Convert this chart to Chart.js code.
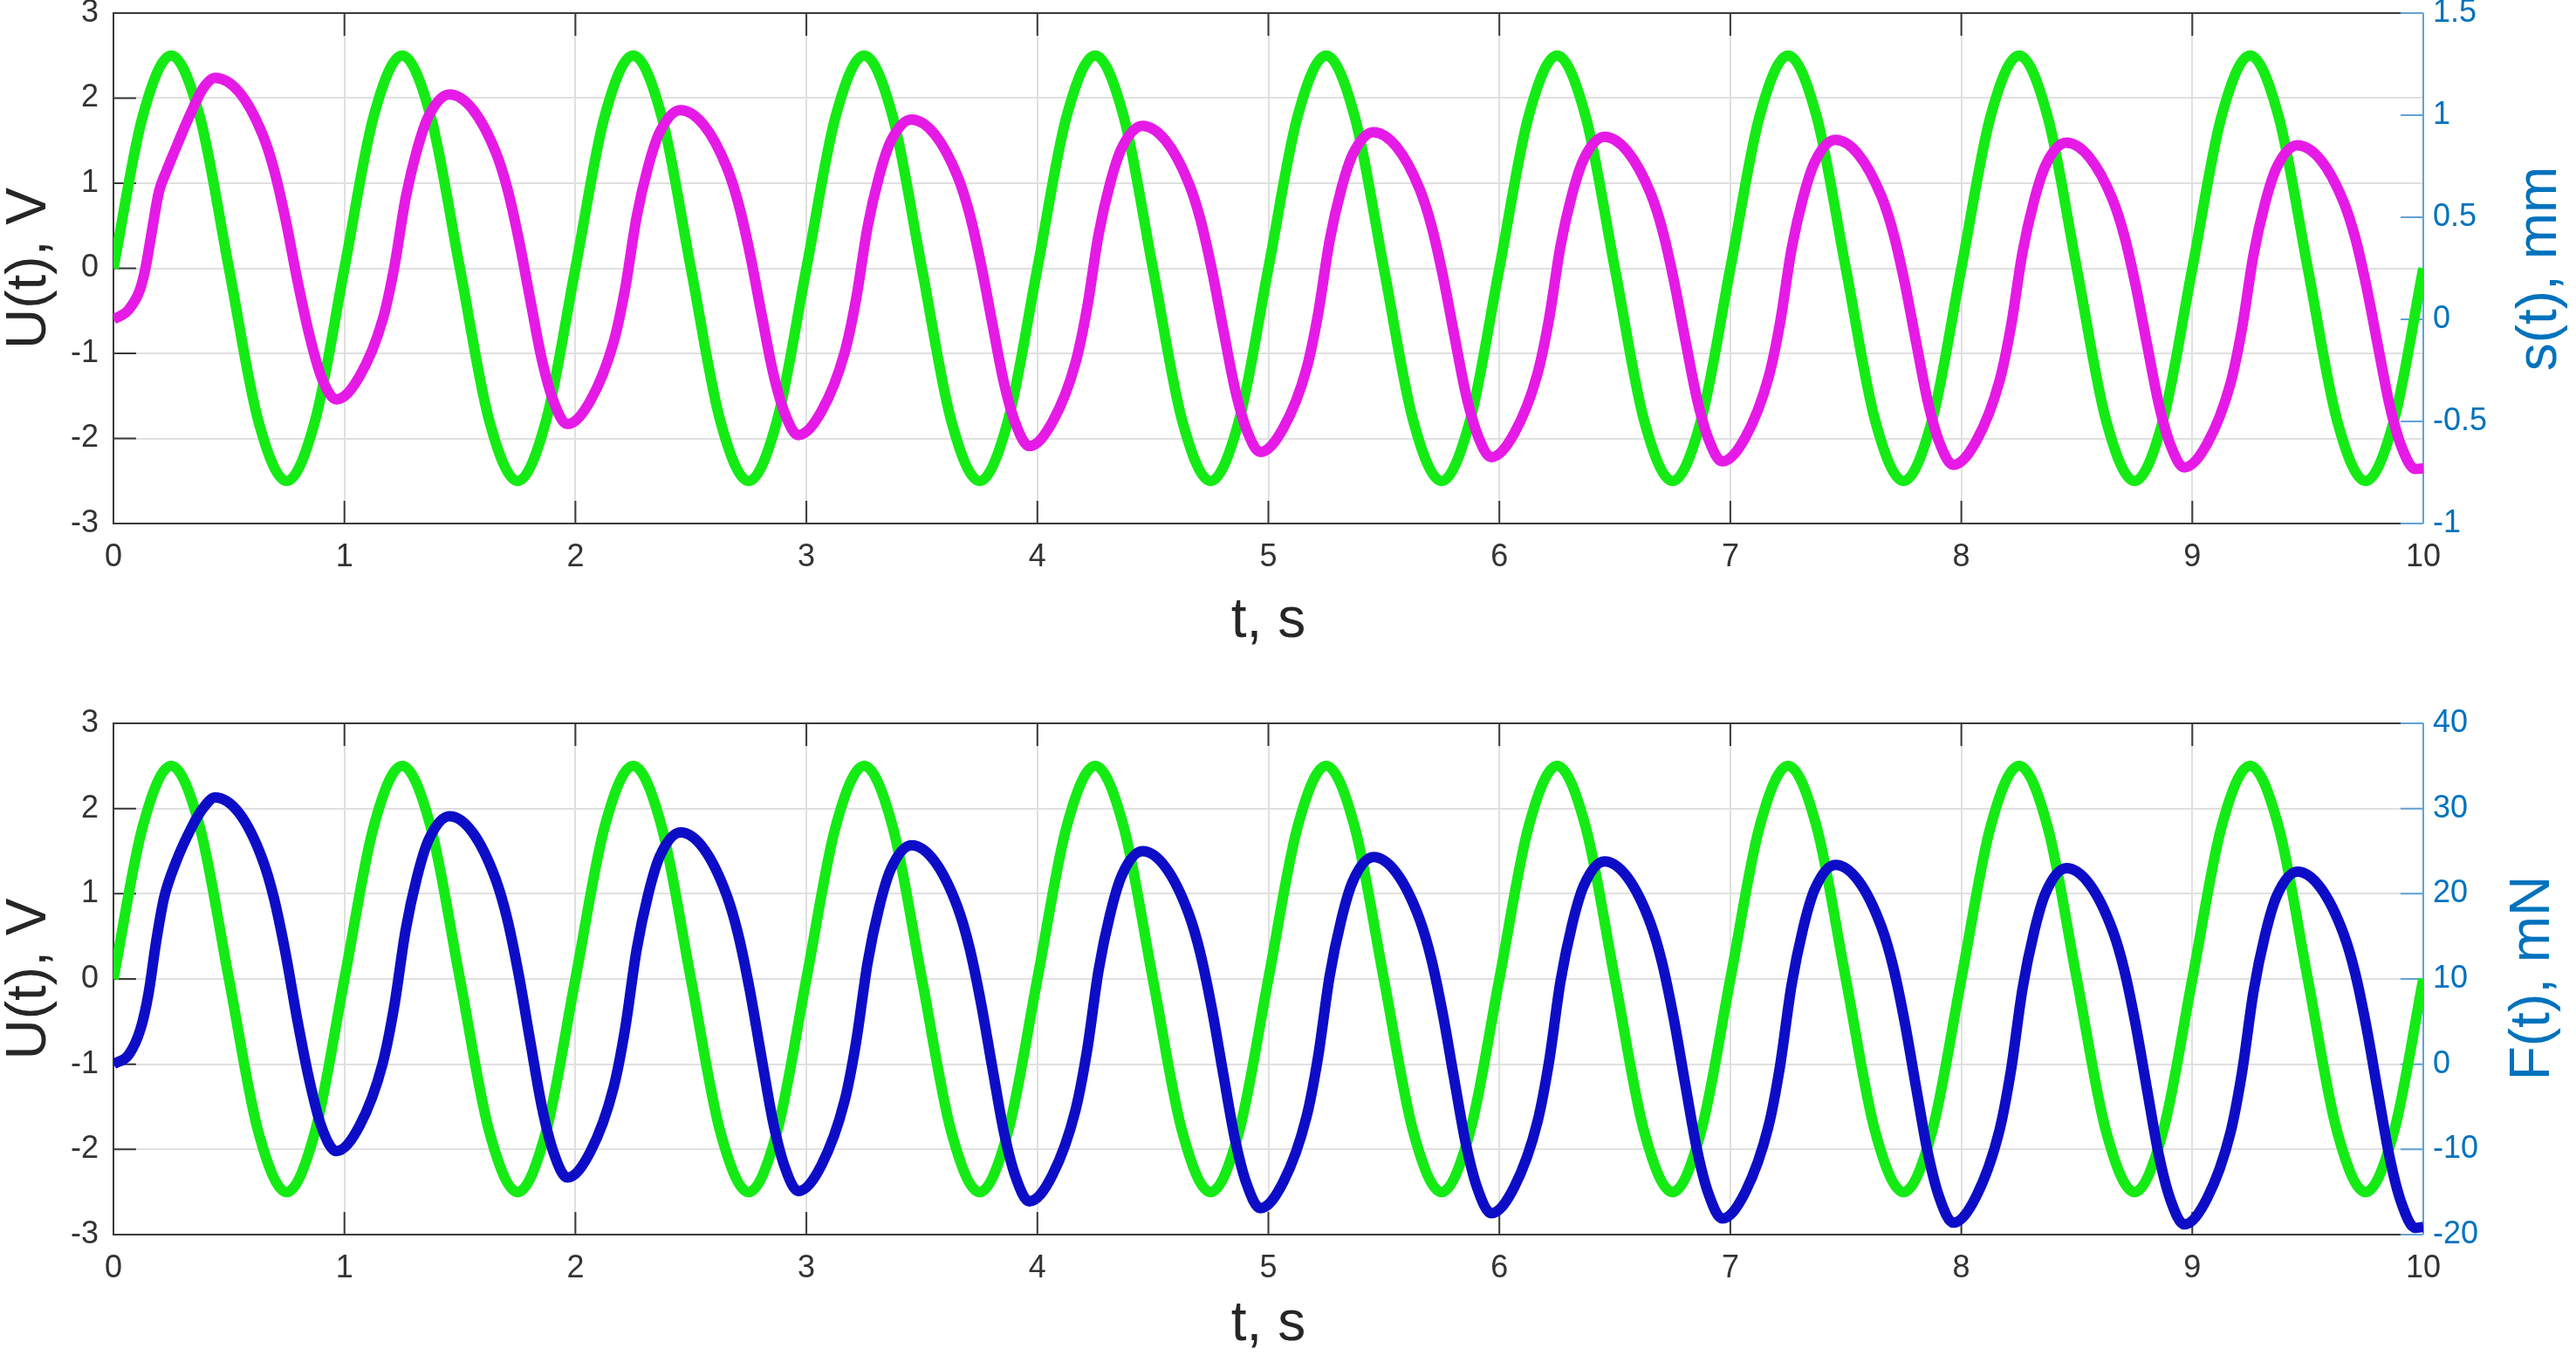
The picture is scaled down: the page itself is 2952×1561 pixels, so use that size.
<!DOCTYPE html>
<html>
<head>
<meta charset="utf-8">
<script src="https://cdn.jsdelivr.net/npm/chart.js@4.4.1/dist/chart.umd.min.js"></script>
<style>
html,body{margin:0;padding:0;background:#fff;}
#wrap{position:relative;width:2952px;height:1561px;overflow:hidden;background:#fff;}
canvas{position:absolute;left:0;}
.rtitle{position:absolute;width:500px;height:80px;line-height:80px;text-align:center;
  font-family:"Liberation Sans",Arial,Helvetica,sans-serif;font-size:64px;color:#0072bd;
  transform:rotate(-90deg);white-space:nowrap;}
</style>
</head>
<body>
<div id="wrap">
  <canvas id="c1" width="2952" height="780" style="top:0px"></canvas>
  <canvas id="c2" width="2952" height="781" style="top:780px"></canvas>
  <div class="rtitle" style="left:2657px;top:268px">s(t), mm</div>
  <div class="rtitle" style="left:2649px;top:1081px">F(t), mN</div>
</div>
<script>
// ---------- tick values and labels ----------
const xTicks = [0,1,2,3,4,5,6,7,8,9,10];
const xTickLabels = ['0','1','2','3','4','5','6','7','8','9','10'];
const uTicks = [-3,-2,-1,0,1,2,3];
const uTickLabels = ['-3','-2','-1','0','1','2','3'];
const sTicks = [-1,-0.5,0,0.5,1,1.5];
const sTickLabels = ['-1','-0.5','0','0.5','1','1.5'];
const fTicks = [-20,-10,0,10,20,30,40];
const fTickLabels = ['-20','-10','0','10','20','30','40'];

// ---------- U(t), V (green, both panels) ----------
const gT = [0,0.125,0.25,0.375,0.5,0.625,0.75,0.875,
1,1.125,1.25,1.375,1.5,1.625,1.75,1.875,
2,2.125,2.25,2.375,2.5,2.625,2.75,2.875,
3,3.125,3.25,3.375,3.5,3.625,3.75,3.875,
4,4.125,4.25,4.375,4.5,4.625,4.75,4.875,
5,5.125,5.25,5.375,5.5,5.625,5.75,5.875,
6,6.125,6.25,6.375,6.5,6.625,6.75,6.875,
7,7.125,7.25,7.375,7.5,7.625,7.75,7.875,
8,8.125,8.25,8.375,8.5,8.625,8.75,8.875,
9,9.125,9.25,9.375,9.5,9.625,9.75,9.875,10];
const gU = [0,1.77,2.5,1.77,0,-1.77,-2.5,-1.77,
0,1.77,2.5,1.77,0,-1.77,-2.5,-1.77,
0,1.77,2.5,1.77,0,-1.77,-2.5,-1.77,
0,1.77,2.5,1.77,0,-1.77,-2.5,-1.77,
0,1.77,2.5,1.77,0,-1.77,-2.5,-1.77,
0,1.77,2.5,1.77,0,-1.77,-2.5,-1.77,
0,1.77,2.5,1.77,0,-1.77,-2.5,-1.77,
0,1.77,2.5,1.77,0,-1.77,-2.5,-1.77,
0,1.77,2.5,1.77,0,-1.77,-2.5,-1.77,
0,1.77,2.5,1.77,0,-1.77,-2.5,-1.77,0];

// ---------- s(t), mm (magenta, top panel) ----------
const sT = [0,0.065,0.115,0.14,0.166,0.197,0.229,0.267,0.315,0.337,0.387,0.44,
0.545,0.645,0.695,0.745,0.795,0.85,0.9,0.965,
1.065,1.165,1.215,1.265,1.315,1.365,1.455,1.555,1.655,1.705,1.755,1.805,1.855,1.905,1.965,
2.065,2.165,2.215,2.265,2.315,2.365,2.455,2.555,2.655,2.705,2.755,2.805,2.855,2.905,2.965,
3.065,3.165,3.215,3.265,3.315,3.365,3.455,3.555,3.655,3.705,3.755,3.805,3.855,3.905,3.965,
4.065,4.165,4.215,4.265,4.315,4.365,4.455,4.555,4.655,4.705,4.755,4.805,4.855,4.905,4.965,
5.065,5.165,5.215,5.265,5.315,5.365,5.455,5.555,5.655,5.705,5.755,5.805,5.855,5.905,5.965,
6.065,6.165,6.215,6.265,6.315,6.365,6.455,6.555,6.655,6.705,6.755,6.805,6.855,6.905,6.965,
7.065,7.165,7.215,7.265,7.315,7.365,7.455,7.555,7.655,7.705,7.755,7.805,7.855,7.905,7.965,
8.065,8.165,8.215,8.265,8.315,8.365,8.455,8.555,8.655,8.705,8.755,8.805,8.855,8.905,8.965,
9.065,9.165,9.215,9.265,9.315,9.365,9.455,9.555,9.655,9.705,9.755,9.805,9.855,9.905,9.965,10];
const sV = [0,0.046,0.146,0.258,0.429,0.625,0.725,0.83,0.96,1.015,1.13,1.183,
1.112,0.907,0.734,0.490,0.199,-0.085,-0.282,-0.392,
-0.280,-0.004,0.250,0.594,0.833,0.997,1.102,1.029,0.819,0.642,0.391,0.093,-0.198,-0.400,-0.513,
-0.398,-0.113,0.148,0.502,0.748,0.917,1.025,0.953,0.746,0.571,0.325,0.030,-0.257,-0.456,-0.567,
-0.451,-0.165,0.098,0.453,0.701,0.871,0.979,0.907,0.699,0.523,0.275,-0.021,-0.309,-0.509,-0.621,
-0.503,-0.213,0.054,0.415,0.666,0.838,0.948,0.876,0.668,0.493,0.245,-0.051,-0.338,-0.538,-0.650,
-0.532,-0.243,0.024,0.384,0.635,0.807,0.917,0.845,0.638,0.463,0.217,-0.078,-0.365,-0.564,-0.675,
-0.557,-0.267,0.000,0.361,0.612,0.784,0.894,0.822,0.616,0.441,0.194,-0.100,-0.386,-0.585,-0.696,
-0.578,-0.286,-0.019,0.344,0.596,0.769,0.879,0.807,0.600,0.425,0.179,-0.116,-0.403,-0.602,-0.713,
-0.595,-0.303,-0.034,0.328,0.581,0.755,0.865,0.793,0.587,0.412,0.165,-0.129,-0.415,-0.614,-0.725,
-0.607,-0.315,-0.046,0.316,0.569,0.743,0.853,0.782,0.575,0.401,0.155,-0.138,-0.424,-0.622,-0.733,-0.73];

// ---------- F(t), mN (blue, bottom panel) ----------
const fT = [0,0.067,0.118,0.152,0.185,0.219,0.269,0.337,0.387,0.44,
0.545,0.645,0.695,0.745,0.795,0.85,0.9,0.965,
1.065,1.165,1.215,1.265,1.315,1.365,1.455,1.555,1.655,1.705,1.755,1.805,1.855,1.905,1.965,
2.065,2.165,2.215,2.265,2.315,2.365,2.455,2.555,2.655,2.705,2.755,2.805,2.855,2.905,2.965,
3.065,3.165,3.215,3.265,3.315,3.365,3.455,3.555,3.655,3.705,3.755,3.805,3.855,3.905,3.965,
4.065,4.165,4.215,4.265,4.315,4.365,4.455,4.555,4.655,4.705,4.755,4.805,4.855,4.905,4.965,
5.065,5.165,5.215,5.265,5.315,5.365,5.455,5.555,5.655,5.705,5.755,5.805,5.855,5.905,5.965,
6.065,6.165,6.215,6.265,6.315,6.365,6.455,6.555,6.655,6.705,6.755,6.805,6.855,6.905,6.965,
7.065,7.165,7.215,7.265,7.315,7.365,7.455,7.555,7.655,7.705,7.755,7.805,7.855,7.905,7.965,
8.065,8.165,8.215,8.265,8.315,8.365,8.455,8.555,8.655,8.705,8.755,8.805,8.855,8.905,8.965,
9.065,9.165,9.215,9.265,9.315,9.365,9.455,9.555,9.655,9.705,9.755,9.805,9.855,9.905,9.965,10];
const fV = [0,1.15,4.2,8.3,14.4,19.5,23.6,27.7,30.0,31.3,
29.43,24.04,19.47,13.04,5.36,-2.11,-7.30,-10.2,
-7.25,0.02,6.70,15.74,22.03,26.35,29.1,27.19,21.68,17.02,10.44,2.60,-5.03,-10.33,-13.3,
-10.26,-2.77,4.12,13.43,19.91,24.37,27.2,25.31,19.83,15.20,8.68,0.89,-6.69,-11.95,-14.9,
-11.85,-4.34,2.56,11.90,18.39,22.86,25.7,23.82,18.39,13.79,7.31,-0.42,-7.95,-13.17,-16.1,
-13.02,-5.41,1.57,11.03,17.60,22.12,25.0,23.11,17.67,13.06,6.56,-1.19,-8.73,-13.97,-16.9,
-13.81,-6.19,0.82,10.29,16.88,21.42,24.3,22.42,16.99,12.39,5.91,-1.82,-9.35,-14.57,-17.5,
-14.40,-6.76,0.26,9.76,16.37,20.91,23.8,21.91,16.47,11.86,5.36,-2.39,-9.93,-15.17,-18.1,
-14.99,-7.31,-0.25,9.29,15.93,20.50,23.4,21.51,16.05,11.43,4.92,-2.85,-10.41,-15.66,-18.6,
-15.48,-7.78,-0.71,8.86,15.51,20.09,23.0,21.12,15.69,11.09,4.61,-3.12,-10.65,-15.87,-18.8,
-15.69,-8.04,-1.00,8.52,15.15,19.70,22.6,20.72,15.29,10.69,4.21,-3.52,-11.05,-16.27,-19.2,-19.1];

// ---------- styles ----------
const FONT = "'Liberation Sans', Arial, Helvetica, sans-serif";
const AXIS = '#3a3a3a', GRID = '#e0e0e0', TICKTXT = '#333333', TITLE = '#262626';
const RIGHT = '#0072bd', RIGHT_LINE = '#62a2d6';
const GREEN = '#14eb14', MAGENTA = '#e61ae6', BLUE = '#0d0dc8';
const TICK_LEN = 26;
const LINE_W = 12;

const matlabAxes = {
  id: 'matlabAxes',
  beforeDatasetsDraw(chart) {
    const {ctx, chartArea: a} = chart;
    const x = chart.scales.x, y = chart.scales.y, y1 = chart.scales.y1;
    ctx.save();
    ctx.lineCap = 'butt';
    ctx.strokeStyle = AXIS; ctx.lineWidth = 2;
    ctx.beginPath();
    x.ticks.forEach(t => {
      const p = x.getPixelForValue(t.value);
      ctx.moveTo(p, a.bottom); ctx.lineTo(p, a.bottom - TICK_LEN);
      ctx.moveTo(p, a.top); ctx.lineTo(p, a.top + TICK_LEN);
    });
    y.ticks.forEach(t => {
      const p = y.getPixelForValue(t.value);
      ctx.moveTo(a.left, p); ctx.lineTo(a.left + TICK_LEN, p);
    });
    ctx.moveTo(a.right, a.top); ctx.lineTo(a.left, a.top);
    ctx.lineTo(a.left, a.bottom); ctx.lineTo(a.right, a.bottom);
    ctx.stroke();
    ctx.strokeStyle = RIGHT_LINE;
    ctx.beginPath();
    y1.ticks.forEach(t => {
      const p = y1.getPixelForValue(t.value);
      ctx.moveTo(a.right, p); ctx.lineTo(a.right - TICK_LEN, p);
    });
    ctx.moveTo(a.right, a.top); ctx.lineTo(a.right, a.bottom);
    ctx.stroke();
    ctx.restore();
  }
};

function setTicks(values) {
  return s => { s.ticks = values.map(v => ({value: v})); };
}

function makeChart(id, cfg) {
  return new Chart(document.getElementById(id), {
    type: 'line',
    data: {
      datasets: [
        { label: 'U(t), V', data: gT.map((t, i) => ({x: t, y: gU[i]})), yAxisID: 'y',
          borderColor: GREEN, borderWidth: LINE_W, pointRadius: 0, fill: false,
          cubicInterpolationMode: 'monotone', order: 2 },
        { label: cfg.rightTitle, data: cfg.T.map((t, i) => ({x: t, y: cfg.V[i]})), yAxisID: 'y1',
          borderColor: cfg.color, borderWidth: LINE_W, pointRadius: 0, fill: false,
          cubicInterpolationMode: 'monotone', order: 1 }
      ]
    },
    options: {
      responsive: false, animation: false, events: [],
      layout: { padding: { top: cfg.padTop, left: 0, right: 0, bottom: 0 } },
      plugins: { legend: { display: false }, tooltip: { enabled: false } },
      scales: {
        x: {
          type: 'linear', position: 'bottom', min: 0, max: 10,
          afterBuildTicks: setTicks(xTicks),
          ticks: { callback: (v, i) => xTickLabels[i], color: TICKTXT, autoSkip: false, maxRotation: 0,
                   font: { family: FONT, size: 36 }, padding: 17 },
          grid: { color: GRID, lineWidth: 2, drawTicks: false },
          border: { display: false },
          title: { display: true, text: 't, s', color: TITLE,
                   font: { family: FONT, size: 64, lineHeight: 1 }, padding: { top: 0, bottom: cfg.xTitlePad } },
          afterFit: s => { s.height = cfg.xHeight; s.paddingLeft = 0; s.paddingRight = 0; }
        },
        y: {
          type: 'linear', position: 'left', min: -3, max: 3,
          afterBuildTicks: setTicks(uTicks),
          ticks: { callback: (v, i) => uTickLabels[i], color: TICKTXT, autoSkip: false,
                   font: { family: FONT, size: 36 }, padding: 17 },
          grid: { color: GRID, lineWidth: 2, drawTicks: false },
          border: { display: false },
          title: { display: true, text: 'U(t), V', color: TITLE,
                   font: { family: FONT, size: 64, lineHeight: 1 }, padding: { top: 2.5, bottom: 0 } },
          afterFit: s => { s.width = 130; s.paddingTop = 0; s.paddingBottom = 0; }
        },
        y1: {
          type: 'linear', position: 'right', min: cfg.rMin, max: cfg.rMax,
          afterBuildTicks: setTicks(cfg.rTicks),
          ticks: { callback: (v, i) => cfg.rLabels[i], color: RIGHT, autoSkip: false,
                   font: { family: FONT, size: 36 }, padding: 11 },
          grid: { drawOnChartArea: false, drawTicks: false },
          border: { display: false },
          title: { display: false, text: cfg.rightTitle },
          afterFit: s => { s.width = 175; s.paddingTop = 0; s.paddingBottom = 0; }
        }
      }
    },
    plugins: [matlabAxes]
  });
}

makeChart('c1', { padTop: 15, xHeight: 180, xTitlePad: 36, T: sT, V: sV, color: MAGENTA,
  rMin: -1, rMax: 1.5, rTicks: sTicks, rLabels: sTickLabels, rightTitle: 's(t), mm' });
makeChart('c2', { padTop: 49, xHeight: 146, xTitlePad: 11, T: fT, V: fV, color: BLUE,
  rMin: -20, rMax: 40, rTicks: fTicks, rLabels: fTickLabels, rightTitle: 'F(t), mN' });
</script>
</body>
</html>
